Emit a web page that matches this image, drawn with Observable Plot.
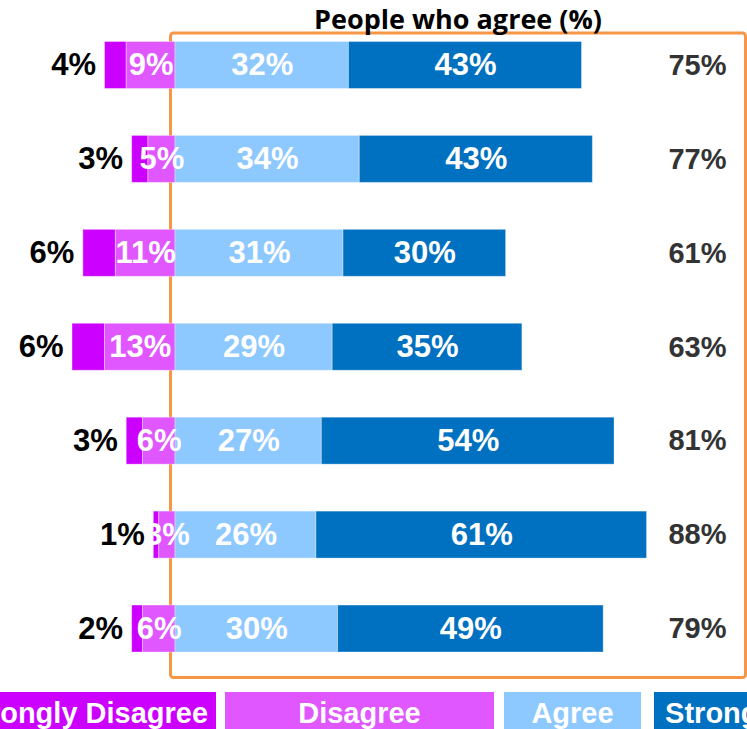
<!DOCTYPE html>
<html><head><meta charset="utf-8">
<script src="https://cdn.jsdelivr.net/npm/d3@7"></script>
<script src="https://cdn.jsdelivr.net/npm/@observablehq/plot@0.6"></script>
<style>
body{margin:0;background:#fff;width:747px;height:729px;overflow:hidden;position:relative;font-family:"Liberation Sans",Arial,sans-serif;}
#legend{position:absolute;left:0;top:692px;width:747px;height:37px;overflow:hidden;}
.item{position:absolute;top:0;height:42px;color:#fff;font-weight:bold;font-size:29px;display:flex;align-items:center;justify-content:center;white-space:nowrap;}
</style></head><body>
<div id="chart"></div><div id="legend"></div>
<script>
const rows = ["Item 1","Item 2","Item 3","Item 4","Item 5","Item 6","Item 7"];
const stronglyDisagree = [4,3,6,6,3,1,2];
const disagree = [9,5,11,13,6,3,6];
const agree = [32,34,31,29,27,26,30];
const stronglyAgree = [43,43,30,35,54,61,49];
const totalAgree = [75,77,61,63,81,88,79];
const levels = ["Strongly Disagree","Disagree","Agree","Strongly Agree"];
const colors = ["#CC00FF","#E056FF","#8DC8FF","#0070C0"];
const title = "People who agree (%)";

// layout of the legend boxes (pixels)
const legendLayout = [{left:-48,width:264},{left:225,width:269},{left:504,width:137},{left:654,width:229}];

const segs = [];
rows.forEach((r,i)=>{
  const sd=stronglyDisagree[i], d=disagree[i], a=agree[i], sa=stronglyAgree[i];
  segs.push({row:r, level:levels[0], x1:-(d+sd), x2:-d, value:sd});
  segs.push({row:r, level:levels[1], x1:-d, x2:0, value:d});
  segs.push({row:r, level:levels[2], x1:0, x2:a, value:a});
  segs.push({row:r, level:levels[3], x1:a, x2:a+sa, value:sa});
});
const totals = rows.map((r,i)=>({row:r, total:totalAgree[i]}));

const pxPerPct = 5.42;
const chart = Plot.plot({
  width:747, height:686,
  marginLeft:170, marginRight:2, marginTop:32.5, marginBottom:9,
  x:{domain:[-5/pxPerPct, 570/pxPerPct], axis:null},
  y:{domain:rows, axis:null, paddingInner:0.5, paddingOuter:0, insetTop:9, insetBottom:25, round:false},
  color:{domain:levels, range:colors},
  style:{fontFamily:"Liberation Sans, Arial, sans-serif", background:"white", overflow:"visible"},
  marks:[
    Plot.frame({stroke:"#F79646", strokeWidth:3, rx:3}),
    Plot.barX(segs,{x1:"x1",x2:"x2",y:"row",fill:"level", stroke:"white", strokeOpacity:0.35, strokeWidth:1}),
    Plot.text(segs.filter(d=>d.level!==levels[0]), {x:d=>(d.x1+d.x2)/2, y:"row", text:d=>d.value+"%", fill:"white", fontSize:31, fontWeight:"bold"}),
    Plot.text(segs.filter(d=>d.level===levels[0]), {x:"x1", y:"row", text:d=>d.value+"%", textAnchor:"end", dx:-9, fill:"black", fontSize:31, fontWeight:"bold"}),
    Plot.text(totals, {y:"row", text:d=>d.total+"%", frameAnchor:"right", textAnchor:"end", dx:-19, fill:"#333333", fontSize:29, fontWeight:"bold"}),
    Plot.text([title], {frameAnchor:"top", lineAnchor:"middle", dy:-13, text:d=>d, fontSize:27, fontWeight:"bold", fontFamily:"Open Sans", fill:"black"})
  ]
});
document.getElementById("chart").appendChild(chart);

const legend = document.getElementById("legend");
levels.forEach((lv,i)=>{
  const el = document.createElement("div");
  el.className = "item";
  el.style.left = legendLayout[i].left+"px";
  el.style.width = legendLayout[i].width+"px";
  el.style.background = colors[i];
  el.textContent = lv;
  legend.appendChild(el);
});
</script>
</body></html>
